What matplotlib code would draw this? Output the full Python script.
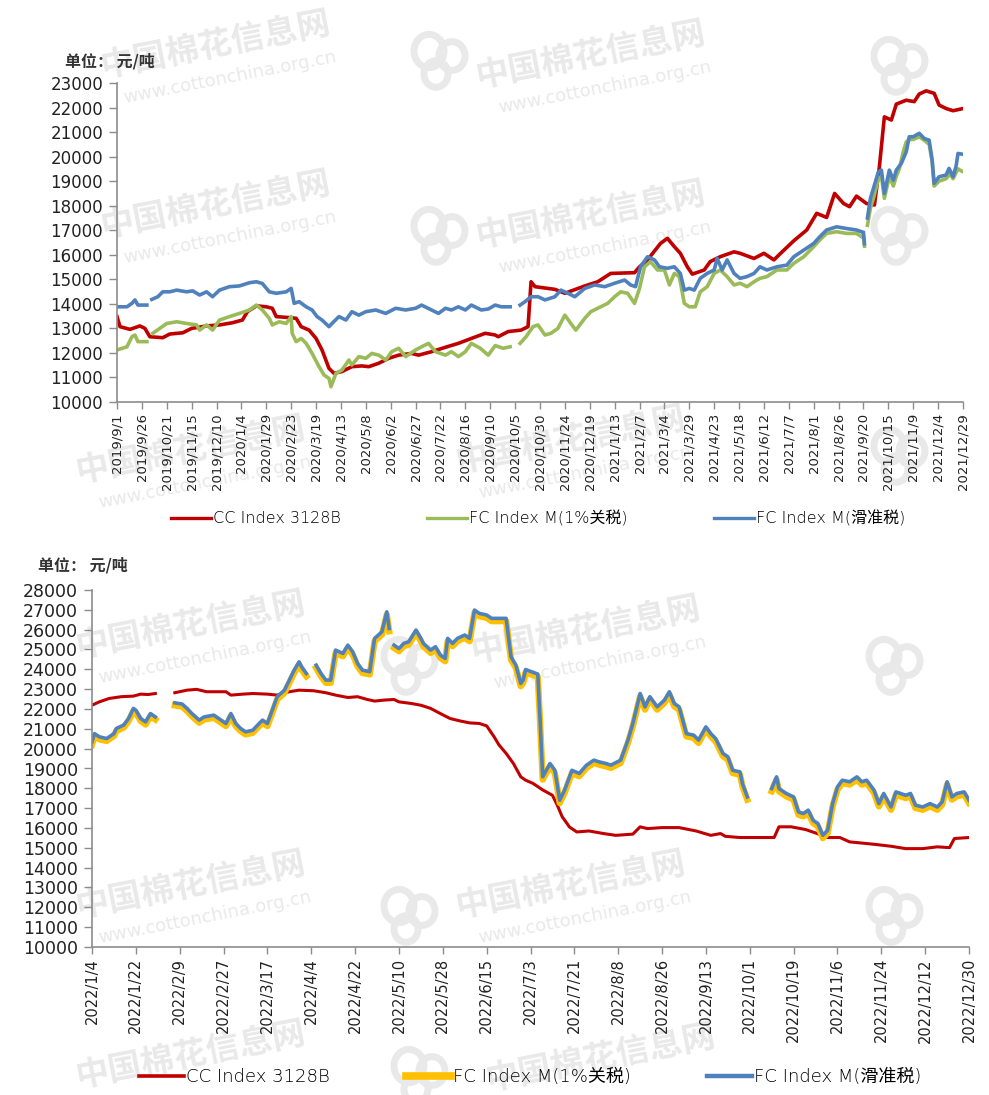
import numpy as np
import matplotlib
matplotlib.use('Agg')
import matplotlib.pyplot as plt
from matplotlib.lines import Line2D
from matplotlib.patches import Circle

plt.rcParams['font.family'] = ['DejaVu Sans', 'Noto Sans CJK SC']
nan = np.nan

# ---- 上图: 2019/9/1 起的天数 ----
top_start = np.datetime64('2019-09-01')

top_red_day = [0, 3, 13, 23, 28, 33, 46, 53, 66, 75,
               90, 103, 116, 126, 131, 140, 150, 156, 160, 173,
               180, 185, 193, 200, 206, 213, 218, 226, 236, 246,
               253, 263, 273, 283, 296, 303, 316, 330, 343, 356,
               370, 380, 383, 393, 406, 413, 416, 420, 440, 450,
               470, 483, 496, 520, 525, 533, 546, 553, 560, 566,
               573, 578, 590, 596, 606, 620, 626, 640, 650, 660,
               666, 680, 693, 703, 713, 721, 730, 736, 743, 753,
               761, 766, 771, 778, 783, 793, 801, 806, 813, 821,
               826, 833, 840, 849]
top_red_val = [13480, 13070, 12960, 13100, 13000, 12660, 12620, 12770, 12820, 13000,
               13100, 13140, 13230, 13340, 13680, 13920, 13880, 13820, 13480, 13440,
               13410, 13070, 12930, 12590, 12120, 11370, 11170, 11240, 11440, 11470,
               11440, 11580, 11780, 11910, 11980, 11910, 12050, 12230, 12390, 12590,
               12800, 12730, 12660, 12870, 12930, 13070, 14900, 14700, 14590, 14430,
               14730, 14900, 15240, 15270, 15510, 15790, 16460, 16670, 16330, 16060,
               15510, 15210, 15380, 15720, 15920, 16120, 16060, 15850, 16060, 15790,
               16030, 16570, 17010, 17690, 17520, 18500, 18090, 17960, 18390, 18090,
               18030, 19590, 21620, 21490, 22140, 22300, 22240, 22550, 22680, 22580,
               22100, 21960, 21870, 21950]

top_green_day = [0, 10, 15, 18, 21, 30, 33, 36, 43, 50,
                 60, 70, 80, 83, 90, 96, 103, 113, 123, 133,
                 140, 146, 153, 156, 163, 170, 175, 176, 180, 185,
                 190, 196, 203, 208, 213, 215, 220, 226, 233, 236,
                 243, 250, 256, 263, 270, 276, 283, 290, 300, 306,
                 313, 320, 330, 336, 343, 350, 356, 365, 373, 380,
                 388, 395, 400, 405, 411, 418, 423, 430, 436, 443,
                 450, 456, 461, 470, 476, 486, 493, 500, 506, 513,
                 520, 525, 530, 536, 543, 550, 555, 560, 565, 570,
                 575, 581, 586, 593, 600, 606, 613, 620, 626, 633,
                 640, 646, 653, 663, 673, 680, 690, 700, 706, 713,
                 723, 733, 743, 748, 749, 750, 751, 752, 754, 757,
                 760, 765, 768, 771, 776, 780, 783, 786, 790, 793,
                 796, 800, 806, 810, 816, 819, 821, 826, 833, 837,
                 840, 845, 849]
top_green_val = [12120, 12250, 12660, 12730, 12460, 12460, nan, 12800, 13000, 13200,
                 13270, 13200, 13140, 12930, 13140, 12930, 13340, 13480, 13610, 13750,
                 13950, 13750, 13410, 13140, 13270, 13200, 13480, 12800, 12460, 12590,
                 12390, 11980, 11440, 11100, 10960, 10620, 11170, 11300, 11710, 11510,
                 11850, 11780, 11980, 11910, 11710, 12050, 12190, 11850, 12120, 12250,
                 12390, 12050, 11910, 12050, 11850, 12050, 12390, 12190, 11910, 12300,
                 12190, 12250, nan, 12390, 12660, 13070, 13140, 12730, 12800, 13000,
                 13540, 13200, 12930, 13410, 13680, 13880, 14020, 14290, 14490, 14430,
                 14020, 14630, 15510, 15720, 15380, 15380, 14770, 15240, 15110, 14020,
                 13880, 13880, 14490, 14700, 15240, 15380, 15110, 14770, 14840, 14700,
                 14900, 15040, 15110, 15380, 15380, 15650, 15920, 16330, 16600, 16870,
                 16940, 16870, 16870, 16740, nan, 16750, 16350, nan, 17200, 17900,
                 18300, 19100, 19200, 18300, 19200, 18800, 19200, 19500, 20200, 20600,
                 20700, 20700, 20800, 20700, 20500, 19800, 18800, 19000, 19100, 19300,
                 19100, 19500, 19400]

top_blue_day = [0, 10, 15, 18, 21, 30, 33, 35, 41, 46,
                53, 60, 70, 76, 83, 90, 96, 103, 113, 123,
                133, 140, 146, 153, 160, 170, 175, 178, 183, 190,
                196, 201, 206, 213, 216, 223, 230, 236, 243, 250,
                260, 270, 280, 290, 300, 306, 316, 323, 330, 336,
                343, 350, 356, 366, 373, 380, 386, 395, 400, 405,
                410, 416, 423, 430, 440, 446, 453, 460, 470, 480,
                490, 500, 510, 516, 521, 526, 533, 540, 545, 553,
                560, 566, 570, 575, 580, 586, 593, 600, 603, 608,
                613, 620, 626, 633, 640, 646, 653, 663, 673, 680,
                690, 700, 706, 713, 723, 733, 743, 748, 749, 750,
                751, 752, 754, 757, 760, 765, 768, 771, 776, 780,
                783, 788, 793, 796, 800, 806, 811, 816, 819, 821,
                826, 833, 836, 840, 843, 845, 849]
top_blue_val = [13880, 13880, 14020, 14160, 13950, 13950, nan, 14180, 14290, 14490,
                14490, 14560, 14490, 14530, 14360, 14490, 14290, 14560, 14700, 14730,
                14860, 14900, 14830, 14490, 14430, 14490, 14630, 14020, 14090, 13880,
                13750, 13480, 13340, 13070, 13200, 13480, 13340, 13680, 13540, 13680,
                13750, 13610, 13820, 13750, 13820, 13950, 13750, 13610, 13820, 13750,
                13880, 13750, 13950, 13750, 13790, 13950, 13880, 13880, nan, 13950,
                14090, 14290, 14290, 14160, 14290, 14560, 14430, 14290, 14630, 14770,
                14700, 14840, 14970, 14770, 14700, 15510, 15920, 15790, 15510, 15450,
                15510, 15240, 14560, 14630, 14560, 15040, 15240, 15380, 15850, 15380,
                15790, 15240, 15040, 15110, 15240, 15510, 15380, 15510, 15580, 15920,
                16190, 16460, 16730, 17010, 17140, 17070, 17010, 16940, nan, 16900,
                16450, nan, 17500, 18300, 18700, 19380, 19450, 18500, 19450, 19040,
                19450, 19720, 20200, 20810, 20810, 20950, 20740, 20670, 19860, 18910,
                19180, 19250, 19520, 19180, 19600, 20130, 20100]

# ---- 下图: 2022/1/4 起的天数 ----
bot_start = np.datetime64('2022-01-04')

bot_red_day = [0, 3, 7, 12, 17, 20, 23, 26, 30, 34,
               39, 43, 47, 51, 55, 57, 62, 66, 72, 76,
               81, 85, 91, 96, 100, 105, 109, 113, 116, 120,
               124, 126, 131, 135, 139, 143, 147, 151, 155, 159,
               162, 165, 167, 170, 173, 176, 178, 181, 185, 189,
               191, 193, 196, 199, 204, 210, 215, 222, 225, 228,
               234, 241, 248, 254, 258, 260, 266, 273, 280, 282,
               287, 293, 297, 302, 307, 311, 321, 328, 334, 341,
               347, 352, 354, 360]
bot_red_val = [22190, 22360, 22530, 22620, 22650, 22750, 22730, 22780, nan, 22820,
               22950, 22990, 22870, 22870, 22870, 22700, 22750, 22780, 22750, 22700,
               22870, 22950, 22920, 22820, 22700, 22580, 22620, 22480, 22400, 22450,
               22480, 22360, 22280, 22190, 22030, 21770, 21520, 21400, 21300, 21270,
               21150, 20610, 20200, 19760, 19250, 18580, 18410, 18250, 17920, 17650,
               17150, 16570, 16050, 15800, 15850, 15720, 15630, 15690, 16060, 15970,
               16020, 16020, 15850, 15630, 15720, 15580, 15520, 15520, 15520, 16060,
               16060, 15920, 15750, 15520, 15520, 15300, 15180, 15080, 14960, 14960,
               15050, 15010, 15470, 15520]

bot_fc_day = [0, 1, 3, 6, 9, 10, 13, 15, 17, 18,
              20, 22, 24, 26, 30, 34, 37, 39, 41, 44,
              46, 50, 53, 55, 57, 59, 61, 63, 66, 68,
              70, 72, 74, 76, 79, 81, 83, 85, 86, 88,
              90, 92, 94, 96, 98, 100, 103, 105, 107, 109,
              111, 114, 116, 119, 121, 122, 123, 124, 126, 128,
              130, 133, 135, 136, 139, 141, 143, 145, 146, 148,
              150, 153, 155, 157, 159, 162, 164, 170, 172, 174,
              176, 177, 178, 183, 184, 185, 188, 190, 192, 194,
              197, 200, 203, 206, 208, 211, 213, 217, 220, 222,
              225, 227, 229, 232, 235, 237, 239, 241, 244, 247,
              249, 252, 254, 256, 259, 261, 263, 266, 267, 269,
              274, 279, 281, 282, 285, 288, 290, 292, 294, 296,
              298, 300, 302, 304, 306, 308, 311, 314, 316, 318,
              321, 323, 325, 328, 330, 334, 336, 338, 341, 344,
              347, 349, 351, 353, 355, 358, 360]
bot_yellow_val = [20200, 20620, 20470, 20390, 20640, 20900, 21060, 21390, 21900, 21810,
                  21400, 21220, 21640, 21470, nan, 22180, 22120, 21900, 21640, 21310,
                  21470, 21560, 21310, 21140, 21640, 21140, 20890, 20720, 20800, 21060,
                  21310, 21140, 21800, 22480, 22810, 23320, 23820, 24240, 23990, 23650,
                  nan, 24070, 23650, 23320, 23320, 24830, 24660, 25080, 24750, 24160,
                  23820, 23740, 25420, 25750, 26760, 25920, nan, 25080, 24910, 25170,
                  25250, 25840, 25420, 25170, 24830, 25000, 24580, 24410, 25420, 25170,
                  25420, 25590, 25420, 26850, 26680, 26600, 26430, 26430, 24490, 24070,
                  23150, 23320, 23850, 23620, 21130, 18440, 19110, 18770, 17260, 17770,
                  18770, 18610, 19030, 19280, 19200, 19110, 19030, 19280, 20290, 21130,
                  22640, 21970, 22480, 21970, 22310, 22730, 22140, 21970, 20620, 20540,
                  20290, 20960, 20620, 20370, 19620, 19450, 18770, 18690, 18100, 17430,
                  nan, 17850, 18440, 17850, 17600, 17430, 16670, 16590, 16760, 16250,
                  16080, 15490, 15750, 17090, 17930, 18270, 18190, 18440, 18190, 18270,
                  17770, 17090, 17600, 16920, 17680, 17510, 17600, 17010, 16920, 17090,
                  16920, 17180, 18190, 17430, 17600, 17680, 17260]
bot_blue_val = [20340, 20760, 20600, 20510, 20760, 21020, 21190, 21520, 22030, 21940,
                21520, 21350, 21770, 21600, nan, 22310, 22250, 22030, 21770, 21440,
                21600, 21690, 21440, 21270, 21770, 21270, 21020, 20850, 20930, 21190,
                21440, 21270, 21940, 22620, 22950, 23460, 23960, 24380, 24130, 23790,
                nan, 24210, 23790, 23460, 23460, 24970, 24800, 25220, 24890, 24300,
                23960, 23880, 25560, 25890, 26900, 26060, nan, 25220, 25050, 25310,
                25390, 25980, 25560, 25310, 24970, 25140, 24720, 24550, 25560, 25310,
                25560, 25730, 25560, 26990, 26820, 26740, 26570, 26570, 24630, 24210,
                23290, 23460, 23990, 23760, 21270, 18580, 19250, 18910, 17400, 17910,
                18910, 18750, 19170, 19420, 19340, 19250, 19170, 19420, 20430, 21270,
                22780, 22110, 22620, 22110, 22450, 22870, 22280, 22110, 20760, 20680,
                20430, 21100, 20760, 20510, 19760, 19590, 18910, 18830, 18240, 17570,
                nan, 17990, 18580, 17990, 17740, 17570, 16810, 16730, 16900, 16390,
                16220, 15630, 15890, 17230, 18070, 18410, 18330, 18580, 18330, 18410,
                17910, 17230, 17740, 17060, 17820, 17650, 17740, 17150, 17060, 17230,
                17060, 17320, 18330, 17570, 17740, 17820, 17400]

labels = ['CC Index 3128B', 'FC Index M(1%关税)', 'FC Index M(滑准税)']

RED = '#C00000'
GREEN = '#9BBB59'
BLUE = '#4F81BD'
YELLOW = '#FFC000'
AXC = '#8C8C8C'
WM = '#E9E9E9'
CJK = ['Noto Sans CJK SC', 'DejaVu Sans']
LEG = ['DejaVu Sans', 'Noto Sans CJK SC']


def date_label(start, d):
    y, m, dd = str(start + np.timedelta64(int(d), 'D')).split('-')
    return f'{int(y)}/{int(m)}/{int(dd)}'


def style_axis(ax, start, ndays, step, ymax, xfs, yfs):
    ax.set_facecolor('none')
    ax.set_xlim(0, ndays)
    ax.set_ylim(10000, ymax)
    ticks = np.arange(0, ndays + 1, step)
    ax.set_xticks(ticks)
    ax.set_xticklabels([date_label(start, t) for t in ticks], rotation=90,
                       fontsize=xfs, color='#222222')
    ax.set_yticks(np.arange(10000, ymax + 1, 1000))
    ax.tick_params(axis='y', labelsize=yfs, labelcolor='#222222', color=AXC,
                   direction='out', length=6, width=1, pad=4)
    ax.tick_params(axis='x', color=AXC, direction='out', length=5, width=1, pad=3)
    for s in ['top', 'right']:
        ax.spines[s].set_visible(False)
    for s in ['left', 'bottom']:
        ax.spines[s].set_color(AXC)
        ax.spines[s].set_linewidth(1.2)


fig = plt.figure(figsize=(9.89, 10.95), dpi=100)


def px(x, y):
    return x / 989, 1 - y / 1095


# 水印文字
wm_text = [(215, 45, True), (590, 55, True), (215, 205, True), (590, 215, True),
           (190, 450, True), (570, 440, True), (190, 625, True), (585, 630, True),
           (190, 885, True), (570, 885, True), (190, 1055, False), (600, 1058, False)]
for x, y, url in wm_text:
    fig.text(*px(x, y), '中国棉花信息网', fontsize=24, fontweight='bold',
             color=WM, family=CJK, rotation=11, ha='center', va='center', zorder=-5)
    if url:
        fig.text(*px(x + 15, y + 32), 'www.cottonchina.org.cn', fontsize=13,
                 color=WM, rotation=11, ha='center', va='center', zorder=-5)

# 水印标志
logo_pos = [(440, 60), (440, 235), (900, 65), (900, 235), (900, 455),
            (410, 665), (895, 665), (410, 915), (895, 915), (420, 1075)]
for x, y in logo_pos:
    for dx, dy, r in [(-11, -9, 15), (12, -4, 13), (-4, 14, 12)]:
        cx, cy = px(x + dx, y + dy)
        fig.patches.append(Circle((cx, cy), r / 989, transform=fig.transFigure,
                                  facecolor='none', edgecolor=WM, lw=5, zorder=-6))

# ---- 上图 ----
ax1 = fig.add_axes([117 / 989, 1 - 402 / 1095, 846 / 989, 319 / 1095])
ax1.plot(top_red_day, top_red_val, color=RED, lw=2.6, solid_joinstyle='round')
ax1.plot(top_green_day, top_green_val, color=GREEN, lw=2.6, solid_joinstyle='round')
ax1.plot(top_blue_day, top_blue_val, color=BLUE, lw=2.6, solid_joinstyle='round')
style_axis(ax1, top_start, 850, 25, 23000, 9.5, 12)
fig.text(*px(65, 61), '单位： 元/吨', fontsize=11.5, fontweight='bold',
         family=CJK, color='#333333', va='center')

h1 = [Line2D([], [], color=RED, lw=2.4), Line2D([], [], color=GREEN, lw=2.4),
      Line2D([], [], color=BLUE, lw=2.4)]
fig.legend(h1, labels, loc='center', bbox_to_anchor=px(538, 518), ncol=3,
           frameon=False, handlelength=2.5, handletextpad=0.12, columnspacing=5.4,
           prop={'family': LEG, 'size': 11.5, 'weight': 'light'})

# ---- 下图 ----
ax2 = fig.add_axes([92 / 989, 1 - 947 / 1095, 877 / 989, 357 / 1095])
ax2.plot(bot_red_day, bot_red_val, color=RED, lw=2.2, solid_joinstyle='round')
ax2.plot(bot_fc_day, bot_yellow_val, color=YELLOW, lw=4.6, solid_joinstyle='round')
ax2.plot(bot_fc_day, bot_blue_val, color=BLUE, lw=2.6, solid_joinstyle='round')
style_axis(ax2, bot_start, 360, 18, 28000, 10.5, 12.5)
fig.text(*px(38, 565), '单位： 元/吨', fontsize=11.5, fontweight='bold',
         family=CJK, color='#333333', va='center')

h2 = [Line2D([], [], color=RED, lw=2.6), Line2D([], [], color=YELLOW, lw=5.5),
      Line2D([], [], color=BLUE, lw=3.2)]
fig.legend(h2, labels, loc='center', bbox_to_anchor=px(530, 1077), ncol=3,
           frameon=False, handlelength=2.5, handletextpad=0.12, columnspacing=4.2,
           prop={'family': LEG, 'size': 13, 'weight': 'light'})

fig.savefig('out.png', dpi=100)
